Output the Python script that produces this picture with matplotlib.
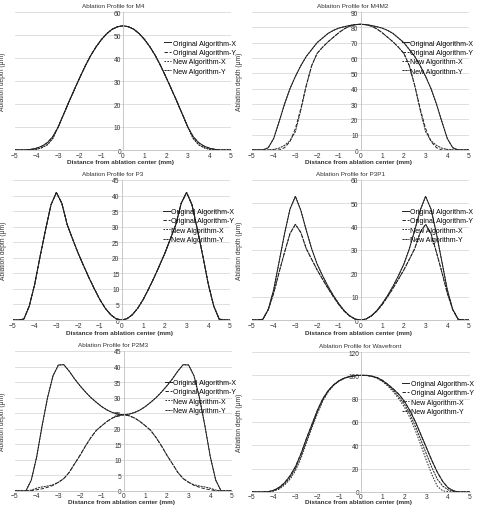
#ablation profiles - original vs new algorithm, 6 panels
import matplotlib.pyplot as plt

plt.rcParams['font.family'] = ['Liberation Sans', 'DejaVu Sans']

# sample positions (mm)
x_mm = [-5 + 0.25 * i for i in range(41)]

# M4
m4_orig_x = [0, 0, 0, 0.3, 0.8, 1.7, 3.2, 5.8, 10, 15.5, 21, 26.3, 31.5, 36.5, 41, 44.8, 48, 50.6, 52.5, 53.6,
             54, 53.6, 52.5, 50.6, 48, 44.8, 41, 36.5, 31.5, 26.3, 21, 15.5, 10, 5.8, 3.2, 1.7, 0.8, 0.3, 0, 0, 0]
m4_orig_y = m4_orig_x
m4_new_x = [0, 0, 0, 0, 0.3, 1.0, 2.3, 5.0, 10, 15.5, 21, 26.3, 31.5, 36.5, 41, 44.8, 48, 50.6, 52.5, 53.6,
            54, 53.6, 52.5, 50.6, 48, 44.8, 41, 36.5, 31.5, 26.3, 21, 15.5, 10, 5.0, 2.3, 1.0, 0.3, 0, 0, 0, 0]
m4_new_y = m4_new_x

# M4M2
m4m2_orig_x = [0, 0, 0, 1.5, 7.5, 18.5, 30, 40, 48, 55, 61, 65.5, 70, 73, 76, 78, 79.5, 80.4, 81.2, 81.8,
               82, 81.8, 81.2, 80.4, 79.5, 78, 76, 73, 70, 65.5, 61, 55, 48, 40, 30, 18.5, 7.5, 1.5, 0, 0, 0]
m4m2_orig_y = [0, 0, 0, 0, 0, 0, 1.5, 5.5, 14, 27, 42, 55, 63, 67, 70.5, 73.5, 76.5, 79, 80.8, 81.7,
               82, 81.7, 80.8, 79, 76.5, 73.5, 70.5, 67, 63, 55, 42, 27, 14, 5.5, 1.5, 0, 0, 0, 0, 0, 0]
m4m2_new_x = m4m2_orig_x
m4m2_new_y = [0, 0, 0, 0, 0.4, 1.2, 3, 6, 12, 26, 42, 55, 63, 67, 70.5, 73.5, 76.5, 79, 80.8, 81.7,
              82, 81.7, 80.8, 79, 76.5, 73.5, 70.5, 67, 63, 55, 42, 26, 12, 6, 3, 1.2, 0.4, 0, 0, 0, 0]

# P3
p3_orig_x = [0, 0, 0.3, 4.5, 11.5, 20.5, 29, 37, 41, 37.5, 30.6, 26, 21.5, 17.5, 13.6, 10, 6.6, 3.8, 1.7, 0.4,
             0, 0.4, 1.7, 3.8, 6.6, 10, 13.6, 17.5, 21.5, 26, 30.6, 37.5, 41, 37, 29, 20.5, 11.5, 4.5, 0.3, 0, 0]
p3_orig_y = p3_orig_x
p3_new_x = p3_orig_x
p3_new_y = p3_orig_x

# P3P1
p3p1_orig_x = [0, 0, 0.3, 4.5, 13, 25, 37, 47.5, 53, 47, 38.5, 30.5, 24, 19, 14.5, 10.5, 7, 4, 1.8, 0.4,
               0, 0.4, 1.8, 4, 7, 10.5, 14.5, 19, 24, 30.5, 38.5, 47, 53, 47.5, 37, 25, 13, 4.5, 0.3, 0, 0]
p3p1_orig_y = [0, 0, 0.3, 4.5, 11.5, 20.5, 29, 37, 41, 37.5, 30.6, 26, 21.5, 17.5, 13.6, 10, 6.6, 3.8, 1.7, 0.4,
               0, 0.4, 1.7, 3.8, 6.6, 10, 13.6, 17.5, 21.5, 26, 30.6, 37.5, 41, 37, 29, 20.5, 11.5, 4.5, 0.3, 0, 0]
p3p1_new_x = p3p1_orig_x
p3p1_new_y = p3p1_orig_y

# P2M3
p2m3_orig_x = [0, 0, 0, 3.5, 11, 21, 30, 37, 40.5, 40.6, 38.5, 36, 33.8, 31.8, 30, 28.5, 27.1, 26, 25.2, 24.7,
               24.5, 24.7, 25.2, 26, 27.1, 28.5, 30, 31.8, 33.8, 36, 38.5, 40.6, 40.5, 37, 30, 21, 11, 3.5, 0, 0, 0]
p2m3_orig_y = [0, 0, 0, 0.1, 0.4, 0.7, 1.2, 1.8, 2.8, 4, 6, 8.8, 11.5, 14.5, 17.2, 19.5, 21, 22.4, 23.5, 24.2,
               24.5, 24.2, 23.5, 22.4, 21, 19.5, 17.2, 14.5, 11.5, 8.8, 6, 4, 2.8, 1.8, 1.2, 0.7, 0.4, 0.1, 0, 0, 0]
p2m3_new_x = p2m3_orig_x
p2m3_new_y = [0, 0, 0, 0.3, 0.9, 1.3, 1.6, 2.0, 2.8, 4, 6, 8.8, 11.5, 14.5, 17.2, 19.5, 21, 22.4, 23.5, 24.2,
              24.5, 24.2, 23.5, 22.4, 21, 19.5, 17.2, 14.5, 11.5, 8.8, 6, 4, 2.8, 2.0, 1.6, 1.3, 0.9, 0.3, 0, 0, 0]

# Wavefront
wf_orig_x = [0, 0, 0, 0.3, 1.5, 4, 8, 14, 22, 33, 46, 58, 70, 80, 87, 92, 95.5, 97.8, 99, 99.8,
             100, 100, 99.3, 98, 95.5, 92, 88, 83.5, 77.5, 69.5, 60, 49, 38, 27, 17, 9, 3.5, 1, 0, 0, 0]
wf_orig_y = wf_orig_x
wf_new_x = [0, 0, 0, 0, 0.8, 2.5, 6, 11, 18.5, 29, 42, 55, 67, 78, 86, 91.5, 95, 97.5, 99, 99.8,
            100, 99.8, 99, 97.3, 94.5, 90.5, 85.5, 79.5, 72.5, 63.5, 52.5, 40, 27, 15, 5, 1, 0.3, 0, 0, 0, 0]
wf_new_y = [0, 0, 0, 0.2, 1.2, 3.2, 7, 12.5, 20, 31, 44, 56.5, 68.5, 79, 86.5, 91.8, 95.3, 97.6, 99, 99.8,
            100, 99.9, 99.2, 97.6, 95, 91.2, 86.7, 81.2, 75, 66.5, 56, 44.5, 32.5, 21, 11, 5, 1.8, 0.4, 0, 0, 0]

titles = ['M4', 'M4M2', 'P3', 'P3P1', 'P2M3', 'Wavefront']
ymax = [60, 90, 45, 60, 45, 120]
ystep = [10, 10, 5, 10, 5, 20]
series = [
    [m4_orig_x, m4_orig_y, m4_new_x, m4_new_y],
    [m4m2_orig_x, m4m2_orig_y, m4m2_new_x, m4m2_new_y],
    [p3_orig_x, p3_orig_y, p3_new_x, p3_new_y],
    [p3p1_orig_x, p3p1_orig_y, p3p1_new_x, p3p1_new_y],
    [p2m3_orig_x, p2m3_orig_y, p2m3_new_x, p2m3_new_y],
    [wf_orig_x, wf_orig_y, wf_new_x, wf_new_y],
]
labels = ['Original Algorithm-X', 'Original Algorithm-Y', 'New Algorithm-X', 'New Algorithm-Y']
styles = ['-', (0, (3.5, 1.8)), (0, (1.6, 1.4)), (0, (2.2, 0.8))]

# axes boxes in figure fraction (left, bottom, width, height)
W, H = 478, 506
boxes = [
    (15 / W, 1 - 151 / H, 216 / W, 138 / H),
    (252 / W, 1 - 151 / H, 217 / W, 138 / H),
    (13 / W, 1 - 321 / H, 217 / W, 140 / H),
    (252 / W, 1 - 321 / H, 217 / W, 140 / H),
    (15 / W, 1 - 492 / H, 217 / W, 140 / H),
    (252 / W, 1 - 493 / H, 218 / W, 140 / H),
]
title_x = [0.455, 0.463, 0.46, 0.455, 0.452, 0.497]
xlab_y = [-0.063, -0.063, -0.07, -0.07, -0.054, -0.047]
xtick_pad = [1.5, 1.5, 1.5, 1.5, 0.8, 0.8]
ylab_x = [-0.04, -0.04, -0.028, -0.04, -0.04, -0.04]

fig = plt.figure(figsize=(4.78, 5.06), dpi=100)

for i in range(6):
    ax = fig.add_axes(boxes[i])
    for s, lab, ls in zip(series[i], labels, styles):
        ax.plot(x_mm, s, color='#222222', lw=0.7, linestyle=ls, label=lab)

    ax.set_xlim(-5, 5)
    ax.set_ylim(0, ymax[i])
    ax.set_xticks(range(-5, 6))
    ax.set_yticks(range(0, ymax[i] + 1, ystep[i]))
    ax.grid(axis='y', color='#d9d9d9', lw=0.6)
    ax.set_axisbelow(True)

    # excel style: y axis sits at x = 0
    ax.spines['top'].set_visible(False)
    ax.spines['right'].set_visible(False)
    ax.spines['left'].set_position(('data', 0))
    ax.spines['left'].set_color('#bfbfbf')
    ax.spines['left'].set_linewidth(0.6)
    ax.spines['bottom'].set_color('#bfbfbf')
    ax.spines['bottom'].set_linewidth(0.6)
    ax.tick_params(length=0, labelsize=4.8, labelcolor='#333333', pad=1.5)
    ax.tick_params(axis='x', pad=xtick_pad[i])

    ax.set_title('Ablation Profile for ' + titles[i], fontsize=4.6, color='#333333', pad=3.6, x=title_x[i])
    ax.set_xlabel('Distance from ablation center (mm)', fontsize=4.6, fontweight='bold', color='#333333')
    ax.xaxis.set_label_coords(0.49, xlab_y[i])
    ax.set_ylabel('Ablation depth (\u03bcm)', fontsize=4.8, color='#333333')
    ax.yaxis.set_label_coords(ylab_x[i], 0.5)

    ax.legend(loc='upper left', bbox_to_anchor=(0.69, 0.80), frameon=False, fontsize=5.0,
              handlelength=1.0, handletextpad=0.25, labelspacing=0.35, borderpad=0, borderaxespad=0)

plt.savefig('out.png', dpi=100)
